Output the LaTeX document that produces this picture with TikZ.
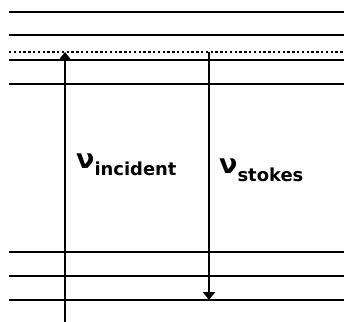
\documentclass[tikz,border=0pt]{standalone}
\usepackage{fontspec}
\setmainfont{DejaVu Sans}
\usetikzlibrary{arrows.meta}
\begin{document}
\begin{tikzpicture}[x=1bp,y=-1bp,
  level/.style={line width=2.8bp},
  virt/.style={line width=2.6bp,dash pattern=on 2.4bp off 2.4bp},
  trans/.style={line width=2.4bp,-{Triangle[width=12bp,length=8bp]}},
  lbl/.style={font=\bfseries\fontsize{27}{29}\selectfont,anchor=base west,inner sep=0pt}]
\useasboundingbox (0,0) rectangle (344,322);
\coordinate (l1a) at (9,12);   \coordinate (l1b) at (344,12);
\coordinate (l2a) at (9,35);   \coordinate (l2b) at (344,35);
\coordinate (vva) at (9,52);   \coordinate (vvb) at (344,52);
\coordinate (l3a) at (9,60);   \coordinate (l3b) at (344,60);
\coordinate (l4a) at (9,84);   \coordinate (l4b) at (344,84);
\coordinate (g1a) at (9,252);  \coordinate (g1b) at (344,252);
\coordinate (g2a) at (9,276);  \coordinate (g2b) at (344,276);
\coordinate (g3a) at (9,300);  \coordinate (g3b) at (344,300);
\draw[level] (l1a) -- (l1b);
\draw[level] (l2a) -- (l2b);
\draw[virt] (vva) -- (vvb);
\draw[level] (l3a) -- (l3b);
\draw[level] (l4a) -- (l4b);
\draw[level] (g1a) -- (g1b);
\draw[level] (g2a) -- (g2b);
\draw[level] (g3a) -- (g3b);
\coordinate (ia) at (65,322); \coordinate (ib) at (65,52);
\coordinate (sa) at (209,52); \coordinate (sb) at (209,300);
\draw[trans] (ia) -- (ib);
\draw[trans] (sa) -- (sb);
\node[lbl] (ninc) at (76,168) {ν\raisebox{-7bp}{\fontsize{18}{20}\selectfont incident}};
\node[lbl] (nsto) at (219,173) {ν\raisebox{-8bp}{\fontsize{18}{20}\selectfont stokes}};
\end{tikzpicture}
\end{document}
